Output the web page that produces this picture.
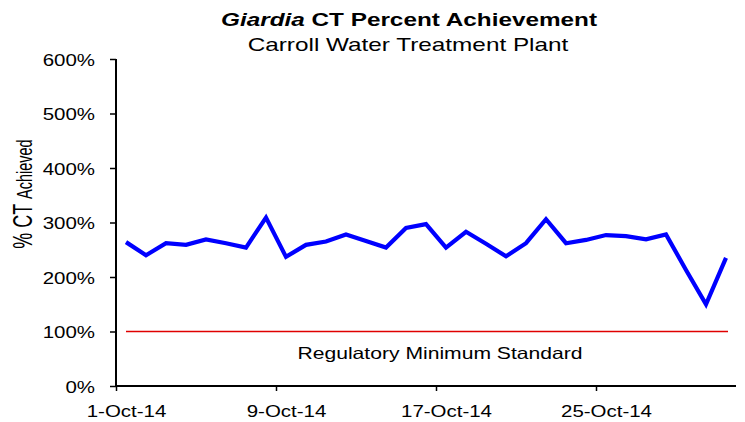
<!DOCTYPE html>
<html>
<head>
<meta charset="utf-8">
<script src="https://cdn.jsdelivr.net/npm/d3@7"></script>
<style>
  html, body { margin: 0; padding: 0; background: #fff; }
  svg { display: block; font-family: "Liberation Sans", Arial, sans-serif; }
</style>
</head>
<body>
<div id="chart"></div>
<script>
// Giardia CT % achievement, daily for October 2014
const days = d3.range(1, 32).map((d) => new Date(2014, 9, d));
const ctPercent = [
  264, 240, 262, 259, 269, 262, 254, 309, 237, 259,
  265, 278, 266, 254, 290, 297, 254, 283, 261, 238,
  262, 306, 262, 268, 277, 275, 269, 278, 213, 150, 235
];
const minimumStandard = 100;
const yTicks = [0, 100, 200, 300, 400, 500, 600];
const xTickDays = [1, 9, 17, 25].map((d) => new Date(2014, 9, d));

const width = 745;
const height = 422;
const margin = { top: 59, right: 9, bottom: 36, left: 116 };
const SX = 1.28; // text in the source is stretched horizontally

const svg = d3
  .select("#chart")
  .append("svg")
  .attr("width", width)
  .attr("height", height);

const x = d3
  .scaleTime()
  .domain([new Date(2014, 9, 1), new Date(2014, 10, 1)])
  .range([margin.left, width - margin.right]);
const y = d3
  .scaleLinear()
  .domain([0, 600])
  .range([height - margin.bottom, margin.top]);

// points sit in the middle of each day
const mid = (d) => d3.timeHour.offset(d, 12);

// titles
const title = svg
  .append("text")
  .attr("transform", `translate(409,26) scale(${SX},1)`)
  .attr("text-anchor", "middle")
  .attr("font-size", 19)
  .attr("font-weight", "bold")
  .attr("fill", "#000");
title.append("tspan").attr("font-style", "italic").text("Giardia");
title.append("tspan").text(" CT Percent Achievement");

svg
  .append("text")
  .attr("transform", `translate(408,51) scale(${SX},1)`)
  .attr("text-anchor", "middle")
  .attr("font-size", 19)
  .attr("fill", "#000")
  .text("Carroll Water Treatment Plant");

// y axis title
const yTitle = svg
  .append("text")
  .attr("transform", `translate(32,194) rotate(-90) scale(1,1.55)`)
  .attr("text-anchor", "middle")
  .attr("fill", "#000");
yTitle.append("tspan").attr("font-size", 18).text("% CT ");
yTitle.append("tspan").attr("font-size", 14.5).text("Achieved");

// axes
const yAxis = svg
  .append("g")
  .attr("transform", `translate(${margin.left},0)`)
  .call(
    d3
      .axisLeft(y)
      .tickValues(yTicks)
      .tickSize(6)
      .tickFormat((d) => d + "%")
  );
yAxis.select(".domain").attr("stroke", "#000").attr("stroke-width", 2).attr("d", `M0,${y(600)}V${y(0)}`);
yAxis.selectAll(".tick line").attr("stroke", "#000").attr("stroke-width", 1.5);
yAxis
  .selectAll(".tick text")
  .attr("x", null)
  .attr("dy", null)
  .attr("transform", `translate(-21,6) scale(${SX},1)`)
  .attr("font-size", 16)
  .attr("font-family", "Liberation Sans, Arial, sans-serif")
  .attr("fill", "#000");

const xAxis = svg
  .append("g")
  .attr("transform", `translate(0,${y(0)})`)
  .call(
    d3
      .axisBottom(x)
      .tickValues(xTickDays)
      .tickSize(5)
      .tickFormat(d3.timeFormat("%-d-%b-%y"))
  );
xAxis.select(".domain").attr("stroke", "#000").attr("stroke-width", 2).attr("d", `M${x.range()[0]},0H${x.range()[1]}`);
xAxis.selectAll(".tick line").attr("stroke", "#000").attr("stroke-width", 1.5);
xAxis
  .selectAll(".tick text")
  .attr("y", null)
  .attr("dy", null)
  .attr("transform", (d) => `translate(${x(mid(d)) - x(d)},31) scale(${SX},1)`)
  .attr("font-size", 16)
  .attr("font-family", "Liberation Sans, Arial, sans-serif")
  .attr("fill", "#000");

// regulatory minimum line
svg
  .append("line")
  .attr("x1", x(mid(days[0])))
  .attr("x2", x(mid(days[days.length - 1])) + 2)
  .attr("y1", y(minimumStandard))
  .attr("y2", y(minimumStandard))
  .attr("stroke", "#e00000")
  .attr("stroke-width", 1.5);

svg
  .append("text")
  .attr("transform", `translate(440,359) scale(${SX},1)`)
  .attr("text-anchor", "middle")
  .attr("font-size", 16.5)
  .attr("fill", "#000")
  .text("Regulatory Minimum Standard");

// CT achievement series
const line = d3
  .line()
  .x((d, i) => x(mid(days[i])))
  .y((d) => y(d));

svg
  .append("path")
  .datum(ctPercent)
  .attr("fill", "none")
  .attr("stroke", "#0000ff")
  .attr("stroke-width", 4.2)
  .attr("stroke-linejoin", "miter")
  .attr("d", line);
</script>
</body>
</html>
